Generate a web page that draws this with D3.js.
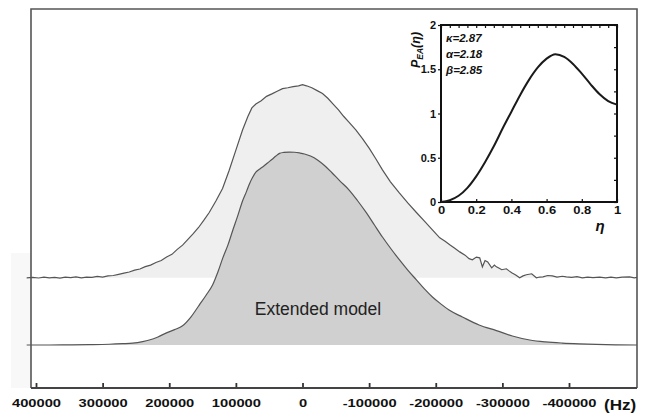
<!DOCTYPE html>
<html>
<head>
<meta charset="utf-8">
<script src="https://cdn.jsdelivr.net/npm/d3@7"></script>
<style>
body { margin: 0; background: #fff; }
svg { display: block; font-family: Arial, "Liberation Sans", sans-serif; }
</style>
</head>
<body>
<div id="chart"></div>
<script>
// measured spectrum (upper trace, noisy) - frequency in Hz, relative intensity
var upperFreq = [414000, 405000, 396000, 388000, 380000, 372000, 364000, 356000, 348000, 340000, 332000, 324000,
    316000, 308000, 300000, 292000, 284000, 276000, 268000, 260000, 252000, 244000, 236000, 228000, 220000, 212000,
    204000, 196000, 188000, 180000, 172000, 164000, 156000, 148000, 140000, 130000, 120000, 110000, 100000, 90000,
    82000, 76000, 70000, 62000, 54000, 46000, 38000, 30000, 22000, 14000, 6000, 0, -6000, -14000, -22000, -30000,
    -38000, -46000, -54000, -62000, -70000, -80000, -90000, -100000, -110000, -120000, -132000, -145000, -158000,
    -171000, -183000, -195000, -206000, -214000, -221000, -228000, -236000, -244000, -250000, -255000, -261000,
    -266000, -270000, -274000, -278000, -284000, -288000, -291000, -296000, -299000, -306000, -310000, -314000,
    -320000, -326000, -331000, -336000, -344000, -351000, -356000, -361000, -368000, -375000, -382000, -390000,
    -396000, -404000, -412000, -420000, -428000, -436000, -446000, -455000, -463000, -471000, -480000, -491000,
    -498000, -502000];
var upperVal = [0, 0.002, -0.001, 0.003, 0, 0.002, -0.002, 0.003, 0.001, 0.005, 0, 0.004,
    0.002, 0.007, 0.004, 0.01, 0.012, 0.018, 0.024, 0.03, 0.04, 0.046, 0.058, 0.066, 0.08, 0.09,
    0.108, 0.122, 0.148, 0.17, 0.2, 0.23, 0.262, 0.3, 0.34, 0.4, 0.465, 0.56, 0.665, 0.77,
    0.84, 0.885, 0.905, 0.922, 0.945, 0.958, 0.972, 0.985, 0.99, 0.996, 1.0, 1.006, 1.0, 0.99, 0.975, 0.96,
    0.935, 0.905, 0.875, 0.84, 0.81, 0.77, 0.725, 0.675, 0.62, 0.562, 0.5, 0.443, 0.39,
    0.34, 0.295, 0.25, 0.208, 0.19, 0.172, 0.155, 0.135, 0.118, 0.1, 0.094, 0.108,
    0.104, 0.057, 0.09, 0.083, 0.052, 0.066, 0.057, 0.048, 0.042, 0.047, 0.036, 0.026,
    0.015, 0, 0.01, 0.016, 0.021, 0, 0.004, 0.005, 0.012, 0.01, 0.004, 0.008,
    0.005, 0.002, 0.006, 0, 0.004, 0.001, 0.003, 0, 0.003, 0, 0.004, 0.005,
    0, 0.002];
var upperOffset = 0.35;

// extended model (lower trace)
var lowerFreq = [414000, 380000, 350000, 320000, 290000, 270000, 255000, 240000, 230000, 217000, 205000, 192000,
    180000, 167000, 155000, 145000, 135000, 127000, 120000, 112000, 105000, 97000, 90000, 84000, 79500, 75000,
    70000, 64000, 58000, 52500, 46000, 40000, 34500, 28000, 20000, 12000, 4000, -3000, -12000, -22500, -33000,
    -43500, -56000, -70000, -83000, -96000, -108000, -120000, -133000, -145600, -158000, -171000, -183000,
    -195000, -208000, -220000, -240000, -265000, -291000, -315000, -341000, -365000, -390000, -415000, -441000,
    -470000, -502000];
var lowerVal = [0, 0, 0.001, 0.002, 0.004, 0.007, 0.01, 0.018, 0.026, 0.042, 0.062, 0.08,
    0.1, 0.148, 0.208, 0.258, 0.3125, 0.38, 0.45, 0.52, 0.594, 0.675, 0.75, 0.8, 0.84, 0.872,
    0.9, 0.917, 0.932, 0.948, 0.966, 0.984, 0.998, 1.003, 1.005, 1.004, 1.0, 0.995, 0.984, 0.964, 0.935,
    0.9, 0.855, 0.807, 0.75, 0.688, 0.625, 0.5625, 0.5, 0.443, 0.39, 0.339, 0.292,
    0.25, 0.213, 0.182, 0.146, 0.104, 0.075, 0.047, 0.026, 0.016, 0.01, 0.006, 0.003,
    0.001, 0];

var freqTicks = [400000, 300000, 200000, 100000, 0, -100000, -200000, -300000, -400000];
var modelLabel = 'Extended model';

// inset: P_EA(eta)
var etaVals = [0, 0.05, 0.1, 0.15, 0.2, 0.25, 0.3, 0.35, 0.4, 0.45, 0.5, 0.55, 0.6, 0.65, 0.7, 0.75, 0.8, 0.85, 0.9, 0.95, 1];
var pVals = [0, 0.02, 0.07, 0.16, 0.29, 0.45, 0.63, 0.83, 1.02, 1.21, 1.38, 1.52, 1.62, 1.67, 1.64, 1.56, 1.45, 1.33, 1.22, 1.14, 1.1];
var etaTicks = [0, 0.2, 0.4, 0.6, 0.8, 1];
var pTicks = [0, 0.5, 1, 1.5, 2];
var params = ['κ=2.87', 'α=2.18', 'β=2.85'];

var svg = d3.select('#chart')
    .append('svg')
    .attr('width', 650)
    .attr('height', 417);

// frame edges (note: plain "top" clashes with window.top)
var frameL = 31, frameR = 637, frameT = 9, frameB = 388;

var x = d3.scaleLinear().domain([400000, -400000]).range([36, 569]);
var y = d3.scaleLinear().domain([0, 1]).range([345, 153]);

// faint band left of the axis
svg.append('rect')
    .attr('x', 11).attr('y', 253)
    .attr('width', frameL - 11).attr('height', frameB - 253)
    .attr('fill', '#f8f8f8');

var upperData = upperFreq.map(function(f, i) { return [f, upperVal[i]]; });
var lowerData = lowerFreq.map(function(f, i) { return [f, lowerVal[i]]; });

var upperArea = d3.area()
    .x(function(d) { return x(d[0]); })
    .y0(y(upperOffset))
    .y1(function(d) { return y(upperOffset + d[1]); });
var upperLine = d3.line()
    .x(function(d) { return x(d[0]); })
    .y(function(d) { return y(upperOffset + d[1]); });

var lowerArea = d3.area()
    .x(function(d) { return x(d[0]); })
    .y0(y(0))
    .y1(function(d) { return y(d[1]); })
    .curve(d3.curveMonotoneX);
var lowerLine = d3.line()
    .x(function(d) { return x(d[0]); })
    .y(function(d) { return y(d[1]); })
    .curve(d3.curveMonotoneX);

svg.append('path').datum(upperData).attr('d', upperArea).attr('fill', '#efefef');
svg.append('path').datum(upperData).attr('d', upperLine)
    .attr('fill', 'none').attr('stroke', '#555').attr('stroke-width', 1.2);

svg.append('path').datum(lowerData).attr('d', lowerArea).attr('fill', '#d0d0d0');
svg.append('path').datum(lowerData).attr('d', lowerLine)
    .attr('fill', 'none').attr('stroke', '#555').attr('stroke-width', 1.2);

// label inside the model peak
svg.append('text')
    .attr('x', 318)
    .attr('y', 315)
    .attr('text-anchor', 'middle')
    .attr('font-size', '17.5px')
    .attr('fill', '#222')
    .text(modelLabel);

// frame
svg.append('path')
    .attr('d', 'M' + frameL + ',' + frameB + 'V' + frameT + 'H' + frameR + 'V' + frameB)
    .attr('fill', 'none')
    .attr('stroke', '#555')
    .attr('stroke-width', 1.6);

// x axis
var xAxis = svg.append('g')
    .attr('transform', 'translate(0,' + frameB + ')')
    .call(d3.axisBottom(x).tickValues(freqTicks).tickSize(-5).tickSizeOuter(0).tickPadding(11)
        .tickFormat(function(d) { return d; }));
xAxis.select('.domain').remove();
xAxis.selectAll('.tick line').attr('stroke', '#333').attr('stroke-width', 1.8);
xAxis.selectAll('.tick text')
    .attr('font-size', '11.5px')
    .attr('font-weight', 'bold')
    .attr('fill', '#111')
    .attr('font-family', 'Arial, "Liberation Sans", sans-serif')
    .attr('transform', 'scale(1.28,1)');
svg.append('line')
    .attr('x1', frameL).attr('x2', frameR)
    .attr('y1', frameB).attr('y2', frameB)
    .attr('stroke', '#444').attr('stroke-width', 1.8);

svg.append('text')
    .attr('transform', 'translate(604,410) scale(1.22,1)')
    .attr('font-size', '14px')
    .attr('font-weight', 'bold')
    .attr('fill', '#111')
    .text('(Hz)');

// inset plot
var xi = d3.scaleLinear().domain([0, 1]).range([441, 617]);
var yi = d3.scaleLinear().domain([0, 2]).range([202, 25]);

var inset = svg.append('g');

inset.append('rect')
    .attr('x', 441).attr('y', 25)
    .attr('width', 176).attr('height', 177)
    .attr('fill', '#fff')
    .attr('stroke', '#111')
    .attr('stroke-width', 2);

// minor ticks on the top and right edges
inset.append('g')
    .attr('transform', 'translate(0,25)')
    .call(d3.axisTop(xi).tickValues(d3.range(0, 1.001, 0.05)).tickSize(-3).tickFormat(''))
    .call(function(g) { g.select('.domain').remove(); });
inset.append('g')
    .attr('transform', 'translate(617,0)')
    .call(d3.axisRight(yi).tickValues(d3.range(0, 2.001, 0.25)).tickSize(-3).tickFormat(''))
    .call(function(g) { g.select('.domain').remove(); });

var xiAxis = inset.append('g')
    .attr('transform', 'translate(0,202)')
    .call(d3.axisBottom(xi).tickValues(etaTicks).tickSize(-3).tickPadding(4)
        .tickFormat(function(d) { return d; }));
var yiAxis = inset.append('g')
    .attr('transform', 'translate(441,0)')
    .call(d3.axisLeft(yi).tickValues(pTicks).tickSize(3).tickPadding(2)
        .tickFormat(function(d) { return d; }));

[xiAxis, yiAxis].forEach(function(a) {
    a.select('.domain').remove();
    a.selectAll('.tick text')
        .attr('font-size', '11px')
        .attr('font-weight', 'bold')
        .attr('fill', '#111')
        .attr('font-family', 'Arial, "Liberation Sans", sans-serif');
});
xiAxis.selectAll('.tick text').attr('transform', 'scale(1.18,1)');
inset.selectAll('.tick line').attr('stroke', '#111').attr('stroke-width', 1.2);

inset.append('path')
    .datum(etaVals.map(function(e, i) { return [e, pVals[i]]; }))
    .attr('d', d3.line()
        .x(function(d) { return xi(d[0]); })
        .y(function(d) { return yi(d[1]); })
        .curve(d3.curveMonotoneX))
    .attr('fill', 'none')
    .attr('stroke', '#1a1a1a')
    .attr('stroke-width', 2);

// parameter annotations
inset.selectAll('.param')
    .data(params)
    .enter()
    .append('text')
    .attr('class', 'param')
    .attr('x', 446)
    .attr('y', function(d, i) { return 42 + i * 16; })
    .attr('font-size', '11.5px')
    .attr('font-weight', 'bold')
    .attr('font-style', 'italic')
    .attr('fill', '#111')
    .text(function(d) { return d; });

// axis titles
var yTitle = inset.append('text')
    .attr('transform', 'translate(420,50) rotate(-90)')
    .attr('text-anchor', 'middle')
    .attr('font-size', '12.5px')
    .attr('font-weight', 'bold')
    .attr('font-style', 'italic')
    .attr('fill', '#111');
yTitle.append('tspan').text('P');
yTitle.append('tspan').attr('font-size', '8.5px').attr('dy', 3).text('EA');
yTitle.append('tspan').attr('dy', -3).text('(η)');

inset.append('text')
    .attr('x', 600)
    .attr('y', 231)
    .attr('text-anchor', 'middle')
    .attr('font-size', '15px')
    .attr('font-weight', 'bold')
    .attr('font-style', 'italic')
    .attr('fill', '#111')
    .text('η');
</script>
</body>
</html>
